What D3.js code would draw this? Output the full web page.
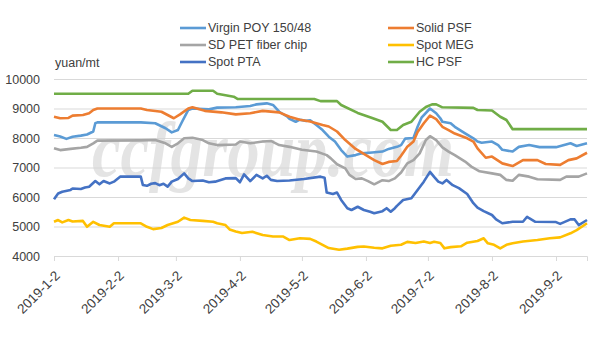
<!DOCTYPE html>
<html>
<head>
<meta charset="utf-8">
<script src="https://cdn.jsdelivr.net/npm/d3@7/dist/d3.min.js"></script>
<style>
body { margin: 0; background: #fff; }
text { font-family: "Liberation Sans", Arial, sans-serif; }
</style>
</head>
<body>
<div id="chart"></div>
<script>
// data (month-day of 2019, yuan/mt)
var seriesNames = ["Virgin POY 150/48", "SD PET fiber chip", "Spot PTA", "Solid PSF", "Spot MEG", "HC PSF"];
var seriesColors = ["#5B9BD5", "#A5A5A5", "#4472C4", "#ED7D31", "#FFC000", "#70AD47"];
var xTickLabels = ["1-2", "2-2", "3-2", "4-2", "5-2", "6-2", "7-2", "8-2", "9-2"];
var yTicks = [4000, 5000, 6000, 7000, 8000, 9000, 10000];

var virginPoy = [["1-2",8100],["1-5",8050],["1-8",7970],["1-11",8040],["1-15",8080],["1-18",8120],["1-21",8220],["1-22",8500],["1-23",8530],["2-13",8530],["2-20",8500],["2-25",8330],["2-28",8190],["3-3",8270],["3-5",8550],["3-8",8950],["3-10",9000],["3-18",8970],["3-22",9030],["3-31",9040],["4-7",9085],["4-10",9140],["4-15",9175],["4-18",9120],["4-21",8890],["4-25",8720],["4-26",8650],["4-29",8550],["5-1",8620],["5-4",8580],["5-6",8600],["5-9",8440],["5-12",8270],["5-15",8045],["5-18",7880],["5-21",7590],["5-24",7370],["5-28",7420],["5-31",7480],["6-5",7510],["6-10",7540],["6-13",7630],["6-17",7700],["6-19",7760],["6-21",7980],["6-25",8000],["6-27",8380],["6-29",8700],["7-3",9000],["7-6",8840],["7-8",8670],["7-9",8550],["7-13",8500],["7-15",8380],["7-20",8160],["7-24",7990],["7-26",7880],["7-28",7840],["8-2",7880],["8-5",7760],["8-7",7600],["8-12",7540],["8-15",7700],["8-20",7760],["8-25",7690],["9-2",7690],["9-9",7820],["9-12",7730],["9-17",7820]];

var sdPetChip = [["1-2",7650],["1-5",7590],["1-10",7630],["1-15",7670],["1-18",7700],["1-21",7820],["1-23",7910],["2-13",7920],["2-20",7930],["2-25",7820],["2-28",7700],["3-3",7820],["3-6",7990],["3-10",8010],["3-15",7930],["3-18",7820],["3-22",7760],["3-31",7780],["4-2",7880],["4-7",7820],["4-13",7880],["4-17",7900],["4-21",7760],["4-26",7700],["5-2",7600],["5-9",7540],["5-14",7420],["5-16",7310],["5-19",7110],["5-23",6970],["5-25",6750],["5-28",6610],["5-31",6630],["6-3",6540],["6-6",6430],["6-10",6570],["6-13",6540],["6-16",6630],["6-19",6830],["6-22",7140],["6-25",7250],["6-28",7480],["7-1",7930],["7-3",8060],["7-6",7930],["7-9",7680],["7-12",7540],["7-15",7420],["7-20",7200],["7-23",7030],["7-27",6870],["8-2",6800],["8-6",6750],["8-9",6580],["8-12",6550],["8-15",6750],["8-20",6690],["8-24",6600],["9-4",6580],["9-7",6690],["9-13",6690],["9-17",6800]];

var spotPta = [["1-2",5920],["1-4",6120],["1-6",6180],["1-10",6240],["1-11",6290],["1-15",6270],["1-17",6320],["1-19",6350],["1-22",6540],["1-24",6430],["1-26",6540],["1-29",6460],["1-31",6520],["2-3",6690],["2-13",6690],["2-14",6410],["2-16",6380],["2-18",6450],["2-20",6470],["2-22",6400],["2-24",6450],["2-26",6350],["2-28",6520],["3-3",6610],["3-6",6800],["3-8",6630],["3-10",6540],["3-15",6560],["3-18",6500],["3-21",6520],["3-26",6630],["3-31",6640],["4-2",6500],["4-4",6770],["4-7",6540],["4-10",6750],["4-13",6630],["4-15",6720],["4-17",6580],["4-20",6540],["4-26",6560],["5-3",6610],["5-11",6690],["5-13",6650],["5-14",6150],["5-17",6100],["5-19",6150],["5-21",5900],["5-24",5620],["5-26",5560],["5-29",5670],["6-1",5560],["6-4",5500],["6-6",5450],["6-10",5520],["6-12",5620],["6-14",5500],["6-16",5620],["6-17",5700],["6-20",5900],["6-24",5960],["6-27",6240],["6-30",6520],["7-3",6850],["7-5",6680],["7-7",6520],["7-9",6460],["7-11",6580],["7-14",6400],["7-17",6300],["7-21",6100],["7-24",5790],["7-26",5640],["7-29",5520],["8-2",5390],["8-4",5240],["8-7",5110],["8-12",5160],["8-17",5160],["8-19",5330],["8-20",5280],["8-23",5160],["9-2",5150],["9-4",5090],["9-9",5240],["9-11",5240],["9-13",5050],["9-17",5220]];

var solidPsf = [["1-2",8720],["1-5",8670],["1-9",8680],["1-11",8760],["1-16",8780],["1-19",8840],["1-21",8950],["1-23",9000],["2-13",9000],["2-16",8950],["2-23",8890],["3-1",8670],["3-4",8800],["3-8",9000],["3-10",9040],["3-16",8920],["3-24",8870],["3-31",8800],["4-7",8840],["4-13",8920],["4-21",8870],["4-26",8720],["5-1",8620],["5-6",8560],["5-12",8440],["5-15",8390],["5-19",8220],["5-23",7930],["5-28",7630],["6-2",7420],["6-6",7250],["6-10",7120],["6-13",7190],["6-17",7220],["6-19",7400],["6-22",7700],["6-25",7880],["6-27",8200],["6-30",8500],["7-3",8760],["7-6",8640],["7-9",8380],["7-12",8270],["7-15",8150],["7-21",7990],["7-24",7880],["7-26",7650],["7-30",7330],["8-2",7370],["8-7",7140],["8-12",7050],["8-17",7250],["8-24",7250],["8-28",7120],["9-4",7090],["9-8",7250],["9-12",7310],["9-17",7500]];

var spotMeg = [["1-2",5160],["1-4",5220],["1-6",5140],["1-9",5220],["1-11",5170],["1-16",5190],["1-18",4990],["1-21",5160],["1-24",5050],["1-29",4990],["1-31",5110],["2-13",5110],["2-16",4990],["2-19",4910],["2-23",4950],["2-26",5050],["3-3",5160],["3-6",5300],["3-9",5220],["3-15",5190],["3-20",5160],["3-22",5110],["3-26",5050],["3-28",4900],["3-31",4830],["4-3",4780],["4-8",4820],["4-13",4710],["4-18",4660],["4-23",4660],["4-26",4540],["5-1",4600],["5-6",4580],["5-9",4490],["5-12",4380],["5-15",4270],["5-20",4210],["5-24",4250],["5-29",4310],["6-1",4320],["6-6",4280],["6-10",4260],["6-14",4350],["6-19",4380],["6-22",4480],["6-26",4440],["6-30",4490],["7-3",4440],["7-5",4480],["7-8",4440],["7-10",4260],["7-13",4300],["7-18",4330],["7-21",4450],["7-26",4510],["7-29",4600],["7-31",4430],["8-3",4380],["8-6",4260],["8-9",4380],["8-12",4430],["8-17",4490],["8-24",4540],["8-30",4600],["9-4",4630],["9-9",4770],["9-12",4880],["9-17",5110]];

var hcPsf = [["1-2",9500],["3-8",9500],["3-10",9600],["3-20",9600],["3-22",9500],["3-26",9450],["3-30",9400],["4-1",9320],["5-8",9320],["5-11",9250],["5-19",9250],["5-21",9120],["5-29",8850],["6-5",8680],["6-10",8550],["6-14",8270],["6-17",8270],["6-20",8440],["6-24",8550],["6-28",8890],["7-1",9050],["7-4",9140],["7-6",9140],["7-9",9040],["7-24",9020],["7-26",8950],["8-2",8930],["8-6",8720],["8-9",8610],["8-12",8300],["9-17",8300]];

var allSeries = [virginPoy, sdPetChip, spotPta, solidPsf, spotMeg, hcPsf];

var svgWidth = 609;
var svgHeight = 339;
var plot = { left: 54, right: 587, top: 79, bottom: 256 };

var parseDay = d3.timeParse("%Y-%m-%d");
function toDate(s) { return parseDay("2019-" + s); }

var svg = d3.select("#chart")
    .append("svg")
    .attr("width", svgWidth)
    .attr("height", svgHeight);

var xScale = d3.scaleTime()
    .domain([toDate("1-2"), toDate("9-17")])
    .range([plot.left, plot.right]);

var yScale = d3.scaleLinear()
    .domain([4000, 10000])
    .range([plot.bottom, plot.top]);

// gridlines + y labels
var yAxis = svg.append("g")
    .attr("transform", `translate(${plot.left}, 0)`)
    .call(d3.axisLeft(yScale).tickValues(yTicks).tickSize(-(plot.right - plot.left)).tickFormat(d3.format("d")));
yAxis.select(".domain").remove();
yAxis.selectAll("line").attr("stroke", "#D9D9D9");
yAxis.selectAll("text")
    .attr("x", -14)
    .attr("font-size", 12.5)
    .attr("fill", "#404040");

// watermark (css font rule would win over attributes, so use style)
svg.append("text")
    .attr("x", 92)
    .attr("y", 176)
    .style("font-family", "'Liberation Serif', 'DejaVu Serif', serif")
    .style("font-style", "italic")
    .style("font-weight", "bold")
    .style("font-size", "78px")
    .attr("textLength", 362)
    .attr("lengthAdjust", "spacingAndGlyphs")
    .attr("fill", "#d6d6d6")
    .attr("opacity", 0.65)
    .text("ccfgroup.com");

// x axis
var xAxis = svg.append("g")
    .attr("transform", `translate(0, ${plot.bottom})`)
    .call(d3.axisBottom(xScale)
        .tickValues(xTickLabels.map(toDate))
        .tickSize(5)
        .tickFormat(d3.timeFormat("%Y-%-m-%-d")));
xAxis.select(".domain").attr("stroke", "#D9D9D9");
xAxis.selectAll("line").attr("stroke", "#D9D9D9");
xAxis.selectAll("text")
    .attr("x", 0)
    .attr("y", 0)
    .attr("dy", "0.35em")
    .attr("text-anchor", "end")
    .attr("transform", "translate(3, 17) rotate(-45)")
    .attr("font-size", 13.5)
    .attr("fill", "#404040");

// lines
var line = d3.line()
    .x(d => xScale(toDate(d[0])))
    .y(d => yScale(d[1]));

allSeries.forEach((s, i) => {
    svg.append("path")
        .datum(s)
        .attr("fill", "none")
        .attr("stroke", seriesColors[i])
        .attr("stroke-width", 2.6)
        .attr("stroke-linejoin", "round")
        .attr("d", line);
});

// unit label
svg.append("text")
    .attr("x", 55)
    .attr("y", 67)
    .attr("font-size", 12.5)
    .attr("fill", "#404040")
    .text("yuan/mt");

// legend, 2 columns x 3 rows
var legend = svg.append("g");
seriesNames.forEach((name, i) => {
    var col = Math.floor(i / 3);
    var row = i % 3;
    var lx = col === 0 ? 180 : 388;
    var ly = 28 + row * 17;
    legend.append("line")
        .attr("x1", lx).attr("x2", lx + 26)
        .attr("y1", ly).attr("y2", ly)
        .attr("stroke", seriesColors[i])
        .attr("stroke-width", 2.6);
    legend.append("text")
        .attr("x", lx + 28)
        .attr("y", ly + 4)
        .attr("font-size", 12.5)
        .attr("fill", "#404040")
        .text(name);
});
</script>
</body>
</html>
